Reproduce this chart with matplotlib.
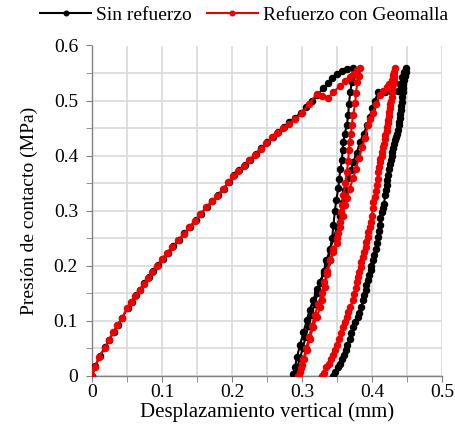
import matplotlib
matplotlib.use("Agg")
import matplotlib.pyplot as plt
from matplotlib.ticker import MultipleLocator, FuncFormatter

plt.rcParams['font.family'] = ['Liberation Serif', 'DejaVu Serif']

# ---- data: Sin refuerzo (black) ----
sin_load_x = [0, 0.005, 0.011, 0.019, 0.025, 0.031, 0.037, 0.043, 0.051, 0.057, 0.063, 0.069, 0.075, 0.081,
              0.087, 0.094, 0.101, 0.108, 0.116, 0.124, 0.132, 0.14, 0.148, 0.156, 0.164, 0.172, 0.18, 0.188,
              0.196, 0.203, 0.21, 0.218, 0.226, 0.234, 0.242, 0.25, 0.258, 0.266, 0.274, 0.282, 0.29, 0.298,
              0.306, 0.314, 0.322, 0.33, 0.337, 0.343, 0.35, 0.357, 0.365, 0.373]
sin_load_y = [0, 0.018, 0.036, 0.052, 0.066, 0.08, 0.093, 0.105, 0.124, 0.135, 0.147, 0.157, 0.168, 0.179,
              0.19, 0.201, 0.213, 0.224, 0.236, 0.247, 0.259, 0.271, 0.283, 0.295, 0.307, 0.318, 0.328, 0.34,
              0.353, 0.364, 0.374, 0.383, 0.393, 0.403, 0.414, 0.424, 0.434, 0.443, 0.452, 0.461, 0.469, 0.477,
              0.488, 0.499, 0.51, 0.522, 0.532, 0.541, 0.548, 0.553, 0.557, 0.559]
sin_unl1_x = [0.372, 0.371, 0.369, 0.367, 0.366, 0.364, 0.361, 0.359, 0.358, 0.357, 0.355, 0.353, 0.352, 0.349,
              0.347, 0.345, 0.343, 0.34, 0.336, 0.331, 0.326, 0.322, 0.316, 0.311, 0.307, 0.302, 0.297, 0.293,
              0.29, 0.287]
sin_unl1_y = [0.545, 0.533, 0.515, 0.494, 0.474, 0.455, 0.44, 0.425, 0.41, 0.392, 0.375, 0.358, 0.341, 0.32,
              0.3, 0.275, 0.25, 0.228, 0.205, 0.187, 0.169, 0.158, 0.138, 0.12, 0.102, 0.079, 0.056, 0.035,
              0.016, 0.003]
sin_rel_x = [0.29, 0.293, 0.297, 0.301, 0.305, 0.309, 0.313, 0.318, 0.322, 0.326, 0.331, 0.335, 0.34, 0.345,
             0.35, 0.355, 0.359, 0.362, 0.366, 0.37, 0.373, 0.378, 0.383, 0.388, 0.393, 0.397, 0.4, 0.404,
             0.409, 0.418, 0.428, 0.437, 0.44, 0.443, 0.446, 0.449]
sin_rel_y = [0.0, 0.015, 0.032, 0.05, 0.07, 0.09, 0.11, 0.13, 0.15, 0.17, 0.19, 0.21, 0.23, 0.25,
             0.27, 0.29, 0.316, 0.337, 0.359, 0.374, 0.388, 0.405, 0.425, 0.44, 0.455, 0.47, 0.486, 0.5,
             0.515, 0.516, 0.516, 0.517, 0.53, 0.543, 0.551, 0.559]
sin_unl2_x = [0.448, 0.447, 0.446, 0.445, 0.445, 0.444, 0.443, 0.443, 0.442, 0.441, 0.440, 0.440, 0.439, 0.438,
              0.437, 0.436, 0.434, 0.433, 0.431, 0.430, 0.429, 0.428, 0.427, 0.426, 0.424, 0.423, 0.422, 0.421,
              0.420, 0.419, 0.417, 0.416, 0.414, 0.412, 0.411, 0.410, 0.409, 0.407, 0.405, 0.403, 0.401, 0.399,
              0.398, 0.396, 0.394, 0.392, 0.391, 0.389, 0.387, 0.385, 0.382, 0.380, 0.376, 0.373, 0.370, 0.368,
              0.365, 0.363, 0.360, 0.357, 0.354, 0.351, 0.347, 0.344]
sin_unl2_y = [0.552, 0.545, 0.537, 0.53, 0.522, 0.515, 0.506, 0.497, 0.49, 0.482, 0.475, 0.468, 0.461, 0.455,
              0.447, 0.44, 0.434, 0.428, 0.421, 0.414, 0.407, 0.4, 0.392, 0.385, 0.375, 0.365, 0.356, 0.347,
              0.337, 0.328, 0.313, 0.305, 0.298, 0.286, 0.275, 0.263, 0.252, 0.241, 0.23, 0.22, 0.21, 0.2,
              0.192, 0.183, 0.174, 0.165, 0.156, 0.147, 0.138, 0.125, 0.115, 0.107, 0.098, 0.089, 0.078, 0.068,
              0.057, 0.047, 0.038, 0.03, 0.022, 0.016, 0.007, 0.0]

# ---- data: Refuerzo con Geomalla (red) ----
geo_load_x = [0, 0.004, 0.01, 0.018, 0.024, 0.03, 0.036, 0.043, 0.05, 0.056, 0.062, 0.068, 0.074, 0.08,
              0.086, 0.093, 0.1, 0.107, 0.115, 0.123, 0.131, 0.139, 0.147, 0.155, 0.163, 0.171, 0.179, 0.187,
              0.195, 0.202, 0.209, 0.217, 0.225, 0.233, 0.241, 0.249, 0.257, 0.265, 0.273, 0.281, 0.29, 0.3,
              0.31, 0.321, 0.329, 0.337, 0.345, 0.354, 0.362, 0.369, 0.374, 0.378, 0.383]
geo_load_y = [0, 0.016, 0.035, 0.051, 0.065, 0.079, 0.092, 0.105, 0.123, 0.134, 0.146, 0.156, 0.167, 0.178,
              0.189, 0.2, 0.212, 0.223, 0.235, 0.246, 0.258, 0.27, 0.282, 0.294, 0.306, 0.317, 0.327, 0.339,
              0.352, 0.363, 0.373, 0.382, 0.392, 0.402, 0.413, 0.423, 0.433, 0.441, 0.45, 0.458, 0.466, 0.478,
              0.494, 0.512, 0.508, 0.505, 0.515, 0.527, 0.535, 0.542, 0.549, 0.555, 0.559]
geo_unl1_x = [0.381, 0.379, 0.377, 0.376, 0.373, 0.371, 0.37, 0.368, 0.367, 0.366, 0.364, 0.362, 0.359, 0.357,
              0.356, 0.354, 0.352, 0.35, 0.345, 0.34, 0.336, 0.333, 0.329, 0.326, 0.321, 0.316, 0.311, 0.307,
              0.303, 0.3, 0.297, 0.294]
geo_unl1_y = [0.545, 0.533, 0.513, 0.495, 0.474, 0.455, 0.44, 0.425, 0.41, 0.39, 0.37, 0.35, 0.328, 0.31,
              0.298, 0.28, 0.26, 0.241, 0.225, 0.21, 0.185, 0.162, 0.138, 0.125, 0.107, 0.089, 0.068, 0.047,
              0.03, 0.02, 0.008, 0.0]
geo_rel_x = [0.296, 0.299, 0.302, 0.306, 0.31, 0.314, 0.318, 0.323, 0.328, 0.332, 0.336, 0.34, 0.345, 0.35,
             0.354, 0.358, 0.361, 0.364, 0.368, 0.373, 0.377, 0.381, 0.386, 0.39, 0.394, 0.397, 0.401, 0.406,
             0.411, 0.416, 0.421, 0.425, 0.428, 0.43, 0.433]
geo_rel_y = [0.0, 0.015, 0.03, 0.05, 0.07, 0.09, 0.11, 0.13, 0.15, 0.17, 0.19, 0.21, 0.23, 0.25,
             0.27, 0.29, 0.31, 0.323, 0.34, 0.359, 0.375, 0.395, 0.415, 0.432, 0.455, 0.466, 0.477, 0.494,
             0.51, 0.518, 0.525, 0.531, 0.537, 0.547, 0.559]
geo_unl2_x = [0.432, 0.431, 0.431, 0.430, 0.429, 0.428, 0.428, 0.427, 0.426, 0.426, 0.425, 0.424, 0.423, 0.423,
              0.422, 0.421, 0.419, 0.418, 0.417, 0.416, 0.415, 0.414, 0.412, 0.411, 0.410, 0.409, 0.408, 0.407,
              0.405, 0.404, 0.402, 0.401, 0.400, 0.398, 0.397, 0.395, 0.394, 0.392, 0.391, 0.389, 0.387, 0.385,
              0.384, 0.382, 0.380, 0.378, 0.377, 0.375, 0.373, 0.369, 0.366, 0.364, 0.361, 0.359, 0.356, 0.353,
              0.350, 0.347, 0.344, 0.341, 0.338, 0.335, 0.331, 0.329]
geo_unl2_y = [0.552, 0.545, 0.537, 0.53, 0.522, 0.515, 0.507, 0.5, 0.493, 0.486, 0.479, 0.472, 0.465, 0.459,
              0.452, 0.445, 0.437, 0.43, 0.422, 0.415, 0.407, 0.4, 0.394, 0.388, 0.379, 0.37, 0.358, 0.347,
              0.336, 0.325, 0.315, 0.305, 0.29, 0.28, 0.27, 0.261, 0.252, 0.243, 0.235, 0.225, 0.216, 0.207,
              0.198, 0.189, 0.18, 0.17, 0.16, 0.149, 0.138, 0.125, 0.116, 0.107, 0.098, 0.089, 0.078, 0.068,
              0.057, 0.047, 0.038, 0.03, 0.022, 0.016, 0.006, 0.0]

sin_x = sin_load_x + sin_unl1_x + sin_rel_x + sin_unl2_x
sin_y = sin_load_y + sin_unl1_y + sin_rel_y + sin_unl2_y
geo_x = geo_load_x + geo_unl1_x + geo_rel_x + geo_unl2_x
geo_y = geo_load_y + geo_unl1_y + geo_rel_y + geo_unl2_y

labels = ["Sin refuerzo", "Refuerzo con Geomalla"]

fig = plt.figure(figsize=(4.56, 4.32), dpi=100)
ax = fig.add_axes([92/456, 1-376/432, 350/456, 330.5/432])

ax.plot(sin_x, sin_y, color='black', lw=1.5, marker='o', ms=4.4, label=labels[0], zorder=3)
ax.plot(geo_x, geo_y, color='#ee0000', lw=1.5, marker='o', ms=4.4, label=labels[1], zorder=4)

fmt = FuncFormatter(lambda v, p: "0" if abs(v) < 1e-9 else f"{v:g}")
ax.set_xlim(0, 0.5)
ax.set_ylim(0, 0.6)
ax.xaxis.set_major_locator(MultipleLocator(0.1))
ax.yaxis.set_major_locator(MultipleLocator(0.1))
ax.xaxis.set_minor_locator(MultipleLocator(0.05))
ax.yaxis.set_minor_locator(MultipleLocator(0.05))
ax.xaxis.set_major_formatter(fmt)
ax.yaxis.set_major_formatter(fmt)
ax.grid(True, which='both', color='#d9d9d9', lw=1.2)
ax.set_axisbelow(True)
for s in ['top', 'right']:
    ax.spines[s].set_visible(False)
for s in ['left', 'bottom']:
    ax.spines[s].set_color('#808080')
    ax.spines[s].set_linewidth(1.0)
ax.tick_params(which='both', direction='out', color='#808080', length=4, labelsize=14)
ax.tick_params(axis='x', pad=2)
ax.tick_params(axis='y', pad=6)
ax.set_xlabel("Desplazamiento vertical (mm)", fontsize=15, labelpad=1)
ax.set_ylabel("Presión de contacto (MPa)", fontsize=14, labelpad=11)

fig.legend(loc='center', bbox_to_anchor=(244/456, 1-15/432), ncol=2, frameon=False,
           fontsize=14, handlelength=2.6, handletextpad=0.25, columnspacing=0.8, markerscale=0.75)

fig.savefig("out.png", dpi=100)
